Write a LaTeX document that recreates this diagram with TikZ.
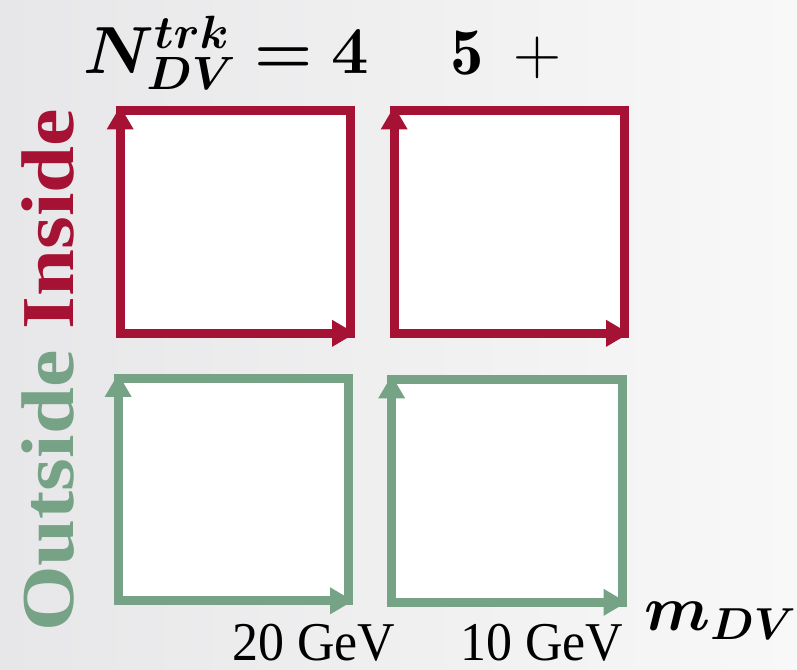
\RequirePackage{fix-cm}
\documentclass[tikz,border=0pt]{standalone}
\usepackage{amsmath,bm}
\usepackage{graphicx}
\usepackage{fontspec}
\newfontfamily\labelfont{Liberation Serif}
\usepackage{xcolor}
\usepackage{tikz}
\usetikzlibrary{arrows.meta}
\definecolor{insidered}{RGB}{165,18,52}
\definecolor{outsidegreen}{RGB}{118,163,134}
\definecolor{bgleft}{RGB}{231,231,233}
\definecolor{bgright}{RGB}{248,248,248}

\begin{document}
\begin{tikzpicture}[
    x=0.75pt, y=-0.75pt,
    panel/.style={fill=white, minimum width=173pt, minimum height=167pt, inner sep=0pt, outer sep=0pt},
    frame/.style={line width=6.75pt},
    axis/.style={frame, -{Triangle[width=19pt,length=17.5pt]}},
    heading/.style={font=\fontsize{50}{60}\selectfont, inner sep=0pt, anchor=base west},
    cut/.style={font=\labelfont\fontsize{41}{48}\selectfont, inner sep=0pt, anchor=base west},
  ]
  \useasboundingbox (0,0) rectangle (797,669);
  \shade[left color=bgleft, right color=bgright] (0,0) rectangle (797,669);

  % panels
  \node[panel] (in4) at (235.5,222) {};
  \node[panel] (in5) at (509.5,222) {};
  \node[panel] (out4) at (233.5,489.5) {};
  \node[panel] (out5) at (507,491) {};

  % inside row
  \draw[frame, insidered] ([xshift=-3.4pt]in4.north west) -- (in4.north east) -- ([yshift=-3.4pt]in4.south east);
  \draw[axis, insidered] ([yshift=-3.4pt]in4.south west) -- ([yshift=3.4pt]in4.north west);
  \draw[axis, insidered] ([xshift=-3.4pt]in4.south west) -- ([xshift=3.4pt]in4.south east);
  \draw[frame, insidered] ([xshift=-3.4pt]in5.north west) -- (in5.north east) -- ([yshift=-3.4pt]in5.south east);
  \draw[axis, insidered] ([yshift=-3.4pt]in5.south west) -- ([yshift=3.4pt]in5.north west);
  \draw[axis, insidered] ([xshift=-3.4pt]in5.south west) -- ([xshift=3.4pt]in5.south east);

  % outside row
  \draw[frame, outsidegreen] ([xshift=-3.4pt]out4.north west) -- (out4.north east) -- ([yshift=-3.4pt]out4.south east);
  \draw[axis, outsidegreen] ([yshift=-3.4pt]out4.south west) -- ([yshift=3.4pt]out4.north west);
  \draw[axis, outsidegreen] ([xshift=-3.4pt]out4.south west) -- ([xshift=3.4pt]out4.south east);
  \draw[frame, outsidegreen] ([xshift=-3.4pt]out5.north west) -- (out5.north east) -- ([yshift=-3.4pt]out5.south east);
  \draw[axis, outsidegreen] ([yshift=-3.4pt]out5.south west) -- ([yshift=3.4pt]out5.north west);
  \draw[axis, outsidegreen] ([xshift=-3.4pt]out5.south west) -- ([xshift=3.4pt]out5.south east);

  % labels
  \node[heading] (ntrk) at (83,73) {$\bm{N^{trk}_{DV}=4}$};
  \node[heading] (nfive) at (450,74) {$\mathbf{5}\;\,{+}$};
  \node[font=\labelfont\bfseries\fontsize{56}{66}\selectfont, inner sep=0pt, anchor=base west, rotate=90] (region) at (73,632)
    {\scalebox{1.13}[1]{\textcolor{outsidegreen}{Outside} \textcolor{insidered}{Inside}}};
  \node[cut] (cut20) at (232,660) {\scalebox{0.95}[1]{20 GeV}};
  \node[cut] (cut10) at (460,660) {\scalebox{0.95}[1]{10 GeV}};
  \node[heading, font=\fontsize{48}{58}\selectfont] (mdv) at (644,630) {$\bm{m_{DV}}$};
\end{tikzpicture}
\end{document}
